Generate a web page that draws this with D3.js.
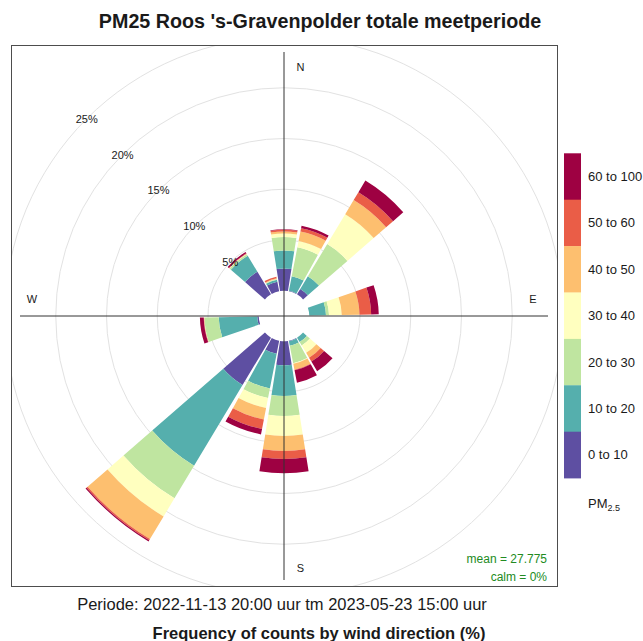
<!DOCTYPE html>
<html>
<head>
<meta charset="utf-8">
<script src="https://cdn.jsdelivr.net/npm/d3@7/dist/d3.min.js"></script>
<style>
  body { margin: 0; background: #ffffff; }
  svg text { font-family: "Liberation Sans", Arial, sans-serif; fill: #1a1a1a; }
</style>
</head>
<body>
<div class="chart"></div>
<script>
// wind direction sectors (degrees, 20 degree bins)
var directions = [20, 40, 60, 80, 100, 120, 140, 160, 180, 200, 220, 240, 260, 280, 300, 320, 340, 360];

// frequency (%) per PM2.5 class, one value per direction above
var pm0to10   = [0.05, 0.62, 0, 0,    0, 0, 0,    0.05, 2.37, 1.30, 5.44, 0, 0.15, 0, 0, 2.60, 0.95, 2.19];
var pm10to20  = [1.45, 1.46, 0, 1.65, 0, 0, 0.50, 0.45, 3.02, 3.50, 9.28, 0, 3.80, 0, 0, 1.85, 0.20, 1.78];
var pm20to30  = [2.91, 3.71, 0, 0.30, 0, 0, 0.40, 1.75, 1.97, 0.95, 3.75, 0, 1.40, 0, 0, 0.17, 0.05, 1.33];
var pm30to40  = [0.64, 3.43, 0, 1.25, 0, 0, 0.85, 0.05, 1.97, 1.00, 2.08, 0, 0.02, 0, 0, 0.03, 0.02, 0.34];
var pm40to50  = [0.94, 1.62, 0, 1.75, 0, 0, 0.55, 0.60, 1.48, 1.15, 2.60, 0, 0.02, 0, 0, 0.03, 0.08, 0.20];
var pm50to60  = [0.34, 0.91, 0, 1.15, 0, 0, 0.45, 0.05, 0.79, 0.95, 0.15, 0, 0.03, 0, 0, 0.04, 0.15, 0.17];
var pm60to100 = [0.25, 1.33, 0, 0.75, 0, 0, 1.10, 1.25, 1.40, 0.55, 0.12, 0, 0.38, 0, 0, 0.15, 0.00, 0.05];

var binLabels = ["0 to 10", "10 to 20", "20 to 30", "30 to 40", "40 to 50", "50 to 60", "60 to 100"];
var binColours = ["#5E4FA2", "#55AFAD", "#BFE5A0", "#FFFFBF", "#FDBF6F", "#EA5D47", "#9E0142"];

// grid circles / labels (%)
var gridTicks = [5, 10, 15, 20, 25];

var meanText = "mean = 27.775";
var calmText = "calm = 0%";

var svgWidth = 643;
var svgHeight = 641;

// plot panel
var panel = { left: 11, top: 45, right: 558, bottom: 587 };
var cx = 284;
var cy = 316;

var svg = d3.select(".chart")
  .append("svg")
  .attr("width", svgWidth)
  .attr("height", svgHeight);

svg.append("defs").append("clipPath")
  .attr("id", "panelClip")
  .append("rect")
  .attr("x", panel.left)
  .attr("y", panel.top)
  .attr("width", panel.right - panel.left)
  .attr("height", panel.bottom - panel.top);

// radial scale: 0% starts at the inner offset hole
var rScale = d3.scaleLinear()
  .domain([0, 25])
  .range([25.25, 279]);

// build table for stacking
var pmSeries = [pm0to10, pm10to20, pm20to30, pm30to40, pm40to50, pm50to60, pm60to100];
var keys = binLabels;
var table = directions.map(function (dir, i) {
  var row = { dir: dir };
  keys.forEach(function (k, j) { row[k] = pmSeries[j][i]; });
  return row;
});

var stacked = d3.stack().keys(keys)(table);

var plot = svg.append("g")
  .attr("clip-path", "url(#panelClip)");

// grid circles
plot.selectAll("circle.grid")
  .data(gridTicks)
  .enter()
  .append("circle")
  .attr("class", "grid")
  .attr("cx", cx)
  .attr("cy", cy)
  .attr("r", d => rScale(d))
  .attr("fill", "none")
  .attr("stroke", "#e2e2e2")
  .attr("stroke-width", 1);

// wedges
var toRad = Math.PI / 180;
var arc = d3.arc()
  .innerRadius(d => rScale(d[0]))
  .outerRadius(d => rScale(d[1]))
  .startAngle(d => (d.data.dir - 9) * toRad)
  .endAngle(d => (d.data.dir + 9) * toRad);

var layers = plot.append("g")
  .attr("transform", `translate(${cx}, ${cy})`)
  .selectAll("g")
  .data(stacked)
  .enter()
  .append("g")
  .attr("fill", (d, i) => binColours[i]);

layers.selectAll("path")
  .data(d => d.filter(p => p[1] - p[0] > 0))
  .enter()
  .append("path")
  .attr("d", arc);

// axis cross
var axisLen = 264;
plot.append("line")
  .attr("x1", cx - axisLen).attr("x2", cx + axisLen)
  .attr("y1", cy).attr("y2", cy)
  .attr("stroke", "#333333").attr("stroke-width", 1);
plot.append("line")
  .attr("x1", cx).attr("x2", cx)
  .attr("y1", cy - axisLen).attr("y2", cy + axisLen)
  .attr("stroke", "#333333").attr("stroke-width", 1);

// percentage labels along 315 degrees
plot.selectAll("text.tick")
  .data(gridTicks)
  .enter()
  .append("text")
  .attr("class", "tick")
  .attr("x", d => cx - rScale(d) * Math.SQRT1_2)
  .attr("y", d => cy - rScale(d) * Math.SQRT1_2)
  .attr("text-anchor", "middle")
  .attr("dominant-baseline", "central")
  .attr("font-size", "11px")
  .text(d => d + "%");

// compass letters
var compass = [
  { t: "N", x: cx + 16.5, y: cy - 249.5 },
  { t: "E", x: cx + 249, y: cy - 17 },
  { t: "S", x: cx + 16.5, y: cy + 251.5 },
  { t: "W", x: cx - 252, y: cy - 17 }
];
plot.selectAll("text.compass")
  .data(compass)
  .enter()
  .append("text")
  .attr("class", "compass")
  .attr("x", d => d.x)
  .attr("y", d => d.y)
  .attr("text-anchor", "middle")
  .attr("dominant-baseline", "central")
  .attr("font-size", "11px")
  .text(d => d.t);

// mean / calm
svg.append("text")
  .attr("x", 547).attr("y", 563)
  .attr("text-anchor", "end")
  .attr("font-size", "12px")
  .style("fill", "#228B22")
  .text(meanText);
svg.append("text")
  .attr("x", 547).attr("y", 581)
  .attr("text-anchor", "end")
  .attr("font-size", "12px")
  .style("fill", "#228B22")
  .text(calmText);

// panel border
svg.append("rect")
  .attr("x", panel.left + 0.5)
  .attr("y", panel.top + 0.5)
  .attr("width", panel.right - panel.left - 1)
  .attr("height", panel.bottom - panel.top - 1)
  .attr("fill", "none")
  .attr("stroke", "#4d4d4d")
  .attr("stroke-width", 1);

// legend
var legTop = 153.3;
var legBoxH = 46.4;
var legend = svg.append("g");
var legendData = binLabels.map((l, i) => ({ label: l, colour: binColours[i] })).reverse();

legend.selectAll("rect")
  .data(legendData)
  .enter()
  .append("rect")
  .attr("x", 564)
  .attr("y", (d, i) => legTop + i * legBoxH)
  .attr("width", 17)
  .attr("height", legBoxH + 0.3)
  .attr("fill", d => d.colour);

legend.selectAll("text")
  .data(legendData)
  .enter()
  .append("text")
  .attr("x", 588)
  .attr("y", (d, i) => legTop + i * legBoxH + legBoxH / 2)
  .attr("dominant-baseline", "central")
  .attr("font-size", "13px")
  .text(d => d.label);

var pmLabel = svg.append("text")
  .attr("x", 588)
  .attr("y", 508)
  .attr("font-size", "13px");
pmLabel.append("tspan").text("PM");
pmLabel.append("tspan")
  .attr("font-size", "9px")
  .attr("dy", 3)
  .text("2.5");

// titles
svg.append("text")
  .attr("x", 320).attr("y", 28)
  .attr("text-anchor", "middle")
  .attr("font-size", "19.7px")
  .attr("font-weight", "bold")
  .text("PM25 Roos 's-Gravenpolder totale meetperiode");

svg.append("text")
  .attr("x", 282).attr("y", 610)
  .attr("text-anchor", "middle")
  .attr("font-size", "16.5px")
  .text("Periode: 2022-11-13 20:00 uur tm 2023-05-23 15:00 uur");

svg.append("text")
  .attr("x", 319).attr("y", 639)
  .attr("text-anchor", "middle")
  .attr("font-size", "16.5px")
  .attr("font-weight", "bold")
  .text("Frequency of counts by wind direction (%)");
</script>
</body>
</html>
